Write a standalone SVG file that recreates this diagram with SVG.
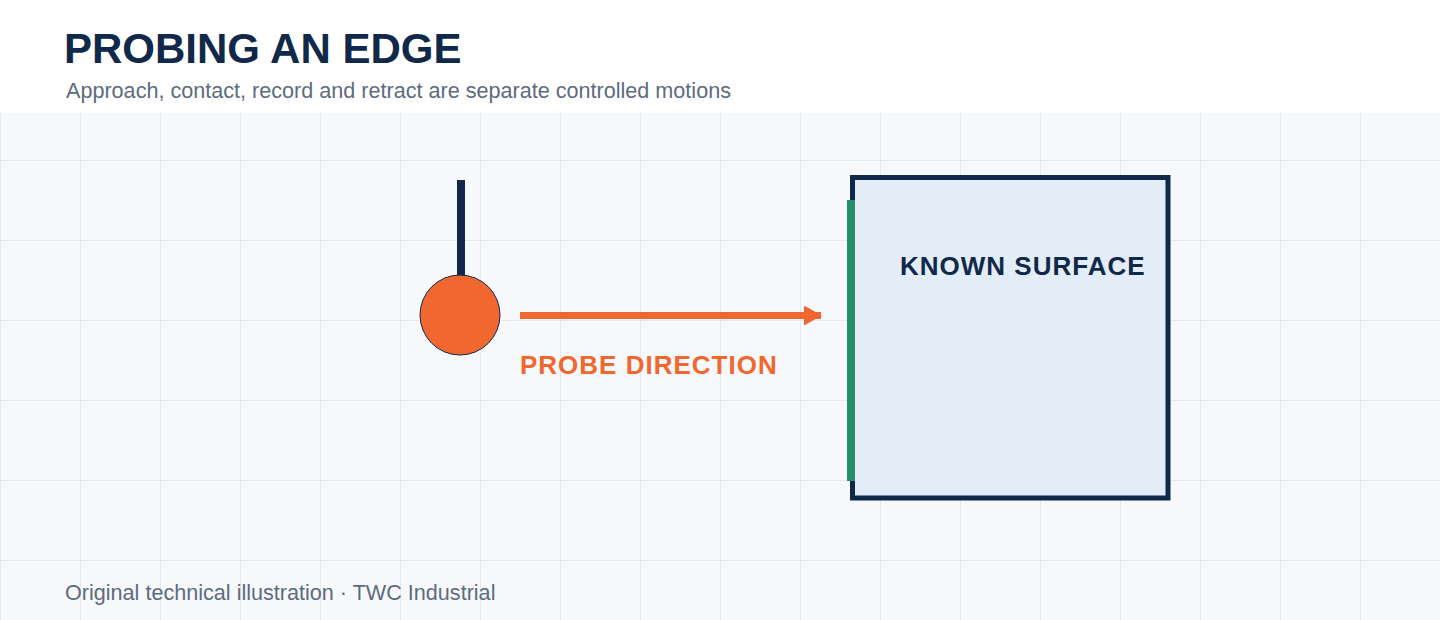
<svg xmlns="http://www.w3.org/2000/svg" width="1440" height="620" viewBox="0 0 1440 620">
<defs>
<pattern id="grid" width="80" height="80" patternUnits="userSpaceOnUse">
<path d="M0 0H80M0 0V80" fill="none" stroke="#dfe4eb" stroke-width="1.5"/>
</pattern>
<marker id="ah" markerUnits="userSpaceOnUse" markerWidth="18" markerHeight="20" refX="17" refY="10" orient="auto">
<path d="M0 0L18 10L0 20Z" fill="#f0672f"/>
</marker>
<style>
.t{font-family:"Liberation Sans",Arial,sans-serif}
.title{font-size:42px;font-weight:700;fill:#10284a}
.sub{font-size:21.6px;fill:#5d6b7e}
.lbl{font-size:26px;font-weight:700;letter-spacing:1px}
</style>
</defs>
<rect width="1440" height="620" fill="#f6f8fc"/>
<rect width="1440" height="620" fill="url(#grid)"/>
<rect width="1440" height="113" fill="#ffffff"/>
<text class="t title" x="64" y="63">PROBING AN EDGE</text>
<text class="t sub" x="66" y="98">Approach, contact, record and retract are separate controlled motions</text>
<g id="surface">
<rect x="852.5" y="177.5" width="315.5" height="320.5" fill="#e3edf8" stroke="#10284a" stroke-width="5"/>
<line x1="851" y1="200" x2="851" y2="481" stroke="#268f66" stroke-width="8"/>
<text class="t lbl" x="900" y="275" fill="#10284a">KNOWN SURFACE</text>
</g>
<g id="probe">
<line x1="461" y1="180" x2="461" y2="280" stroke="#10284a" stroke-width="8"/>
<circle cx="460" cy="315" r="40" fill="#f0672f" stroke="#10284a" stroke-width="1"/>
</g>
<g id="connectors">
<line x1="520" y1="315.5" x2="821" y2="315.5" stroke="#f0672f" stroke-width="7" marker-end="url(#ah)"/>
<text class="t lbl" x="520" y="374" fill="#f0672f">PROBE DIRECTION</text>
</g>
<text class="t sub" x="65" y="600">Original technical illustration · TWC Industrial</text>
</svg>
